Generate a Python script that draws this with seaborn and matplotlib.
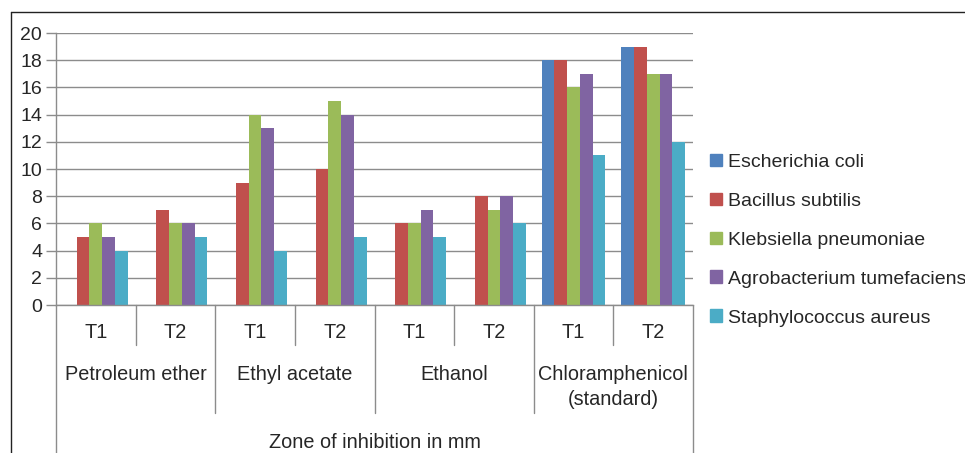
import pandas as pd
import matplotlib
matplotlib.use("Agg")
import matplotlib.pyplot as plt
import matplotlib.transforms as mtransforms
from matplotlib.lines import Line2D
import seaborn as sns

# data
solvents = ["Petroleum ether", "Ethyl acetate", "Ethanol", "Chloramphenicol\n(standard)"]
treatments = ["T1", "T2"]
organisms = ["Escherichia coli", "Bacillus subtilis", "Klebsiella pneumoniae",
             "Agrobacterium tumefaciens", "Staphylococcus aureus"]
e_coli = [0, 0, 0, 0, 0, 0, 18, 19]
b_subtilis = [5, 7, 9, 10, 6, 8, 18, 19]
k_pneumoniae = [6, 6, 14, 15, 6, 7, 16, 17]
a_tumefaciens = [5, 6, 13, 14, 7, 8, 17, 17]
s_aureus = [4, 5, 4, 5, 5, 6, 11, 12]
palette = ["#4F81BD", "#C0504D", "#9BBB59", "#8064A2", "#4BACC6"]

groups = [s + " " + t for s in solvents for t in treatments]
values = [e_coli, b_subtilis, k_pneumoniae, a_tumefaciens, s_aureus]
rows = []
for org, vals in zip(organisms, values):
    for g, v in zip(groups, vals):
        rows.append({"group": g, "organism": org, "zone": v})
df = pd.DataFrame(rows)

sns.set_style("white")
plt.rcParams["font.family"] = ["Liberation Sans", "DejaVu Sans"]

fig = plt.figure(figsize=(9.65, 4.53), dpi=100)
ax = fig.add_axes([56 / 965, 1 - 305 / 453, (693 - 56) / 965, (305 - 33) / 453])

sns.barplot(data=df, x="group", y="zone", hue="organism", hue_order=organisms,
            order=groups, palette=palette, width=0.8, linewidth=0, saturation=1,
            ax=ax)

ax.set_ylim(0, 20)
ax.set_xlim(-0.5, len(groups) - 0.5)
ax.set_yticks(range(0, 21, 2))
ax.yaxis.grid(True, color="#8c8c8c", linewidth=1)
ax.set_axisbelow(True)
for side in ["top", "right"]:
    ax.spines[side].set_visible(False)
for side in ["left", "bottom"]:
    ax.spines[side].set_color("#8c8c8c")
    ax.spines[side].set_linewidth(1)
ax.tick_params(axis="y", length=7, width=1, color="#8c8c8c", labelsize=14, pad=3,
               left=True)
ax.tick_params(axis="x", bottom=False, labelbottom=False)
ax.set_xlabel("")
ax.set_ylabel("")

# multi level category axis below the plot
trans = mtransforms.blended_transform_factory(ax.transData, ax.transAxes)
h = 305 - 33
for i in range(len(groups) + 1):
    x = i - 0.5
    if i == 0 or i == len(groups):
        y_end = -(453 - 305) / h
    elif i % 2 == 0:
        y_end = -(413 - 305) / h
    else:
        y_end = -(345 - 305) / h
    ax.plot([x, x], [0, y_end], transform=trans, color="#8c8c8c", lw=1,
            clip_on=False)
for i, g in enumerate(groups):
    ax.text(i, -(332 - 305) / h, g.split(" ")[-1], transform=trans,
            ha="center", va="center", fontsize=14.3)
for j, s in enumerate(solvents):
    ax.text(2 * j + 0.5, -(365 - 305) / h, s, transform=trans, ha="center",
            va="top", fontsize=14.3, linespacing=1.4)
ax.text(3.5, -(442 - 305) / h, "Zone of inhibition in mm", transform=trans,
        ha="center", va="center", fontsize=14.3)

# legend
handles = [plt.Rectangle((0, 0), 1, 1, color=c) for c in palette]
ax.legend(handles, organisms, loc="center left", bbox_to_anchor=(0.736, 0.470),
          bbox_transform=fig.transFigure, frameon=False, fontsize=14,
          handlelength=0.62, handleheight=0.62, handletextpad=0.31,
          labelspacing=1.12, borderaxespad=0, borderpad=0)

# outer frame
fig.add_artist(Line2D([11 / 965, 1], [1 - 12 / 453, 1 - 12 / 453],
                      transform=fig.transFigure, color="#222222", lw=1))
fig.add_artist(Line2D([11 / 965, 11 / 965], [0, 1 - 12 / 453],
                      transform=fig.transFigure, color="#222222", lw=1))

fig.savefig("out.png", dpi=100)
